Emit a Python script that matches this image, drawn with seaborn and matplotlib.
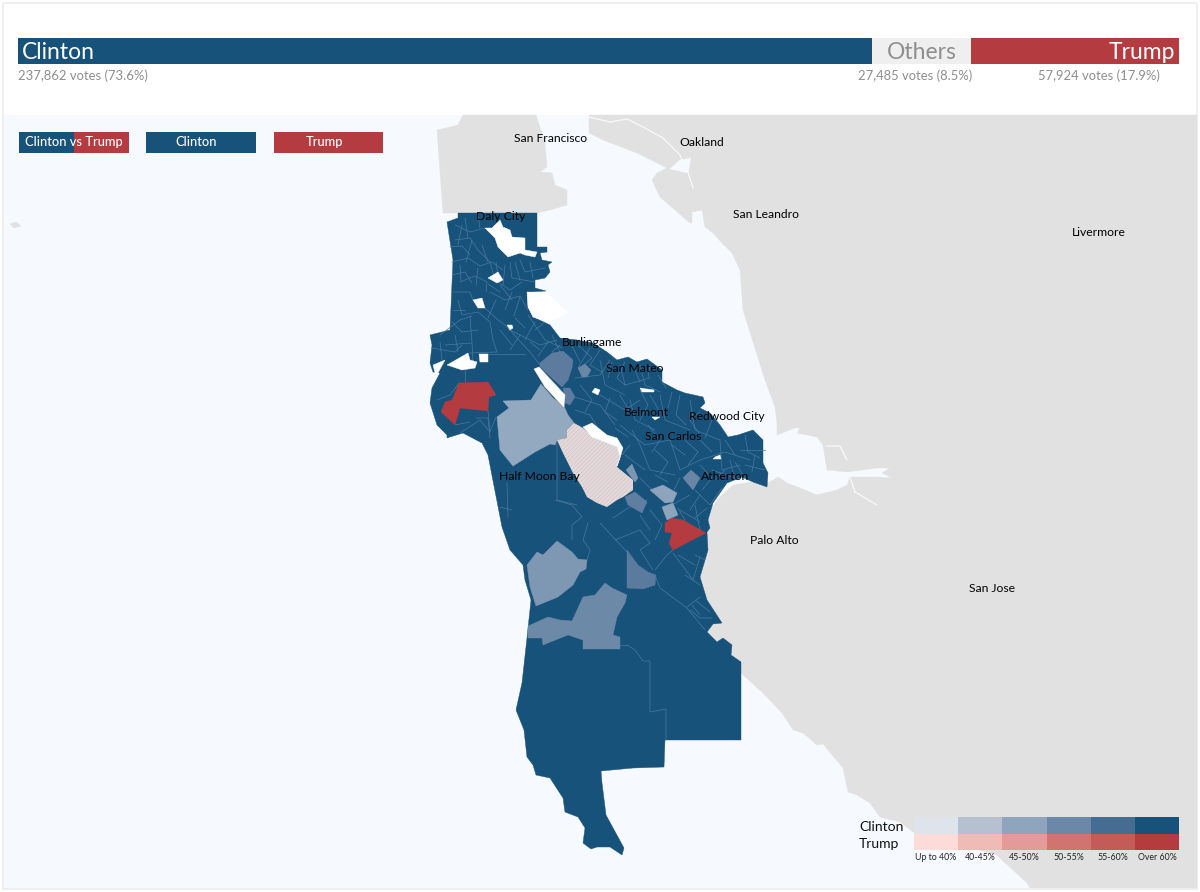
import matplotlib
matplotlib.use("Agg")
import matplotlib.pyplot as plt
from matplotlib.colors import ListedColormap
from matplotlib.patches import Polygon, Rectangle
import numpy as np
import pandas as pd
import seaborn as sns

sns.set_theme(style="white")
plt.rcParams['font.family'] = ['Lato', 'DejaVu Sans']
plt.rcParams['hatch.linewidth'] = 0.4

# ---------- results ----------
candidates = ["Clinton", "Others", "Trump"]
votes = [237862, 27485, 57924]
vote_labels = ["237,862 votes (73.6%)", "27,485 votes (8.5%)", "57,924 votes (17.9%)"]
buttons = ["Clinton", "Trump"]

# ---------- colours ----------
OCEAN = "#f6fafe"
LAND = "#e1e1e1"
BLUE = "#17527a"
RED = "#b43b3f"
OTHER = "#efefef"
LINE = "#4a7a9f"
clinton_scale = ["#dfe4ec", "#b5c0d1", "#8fa5bd", "#6c88a8", "#466c93", "#17527a"]
trump_scale = ["#fcdcd9", "#f0bab6", "#e29b97", "#d1736f", "#c35c59", "#b43b3e"]
scale_labels = ["Up to 40%", "40-45%", "45-50%", "50-55%", "55-60%", "Over 60%"]

# ---------- places ----------
places = ["San Francisco", "Oakland", "San Leandro", "Livermore", "Daly City", "Burlingame",
          "San Mateo", "Belmont", "Redwood City", "San Carlos", "Half Moon Bay", "Atherton",
          "Palo Alto", "San Jose"]
place_x = [551, 702, 766, 1099, 501, 592, 635, 646, 727, 673, 539, 725, 774, 992]
place_y = [138, 143, 214, 232, 217, 343, 368, 413, 416, 437, 477, 477, 540, 589]

# ---------- geography ----------
land_sf = [(463,115),(536,115),(545,143),(547,167),(540,172),(552,173),(555,185),(567,190),(567,205),
           (550,210),(537,213),(443,213),(437,130),(450,127),(458,125)]
land_east = [(593,115),(1197,115),(1197,888),(1030,888),(1027,883),(1000,858),(997,855),(913,832),(900,822),
             (880,817),(870,803),(857,795),(848,792),(843,768),(823,744),(817,745),(803,733),(793,730),
             (782,713),(763,693),(743,675),(728,660),(700,630),(700,573),(708,540),(708,517),(710,510),
             (720,497),(733,485),(752,482),(768,483),(778,477),(787,483),(800,488),(817,495),(837,490),
             (847,485),(850,477),(877,477),(892,478),(882,473),(890,468),(877,468),(847,472),(827,470),
             (823,445),(817,437),(797,433),(800,428),(795,428),(777,435),(777,423),(775,407),(765,380),
             (743,310),(740,270),(732,253),(722,243),(713,233),(705,227),(702,210),(692,212),(692,223),
             (690,223),(660,197),(652,180),(657,173),(667,168),(637,153),(603,140),(589,133),(589,115)]
islet = [(10,224),(16,222),(21,226),(14,228)]
water_channel = [(589,117),(610,122),(627,119),(643,127),(663,138),(680,155),(688,172),(693,188)]
water_basin = [(680,160),(691,158),(688,173),(670,169)]
water_creek_a = [(850,477),(855,492),(877,505)]
water_creek_b = [(827,446),(840,446),(847,460)]

county = [(458,213),(537,213),(537,247),(547,247),(547,252),(540,253),(542,260),(552,262),(548,265),(550,272),
          (545,278),(535,280),(535,288),(546,291),(527,292),(528,307),(533,317),(550,325),(560,338),(577,340),
          (593,343),(607,352),(617,360),(628,357),(637,362),(647,359),(662,370),(662,382),(677,390),(685,393),
          (703,397),(705,403),(700,408),(710,413),(720,425),(728,437),(738,435),(753,430),(763,440),(763,463),
          (768,473),(767,487),(753,482),(742,477),(727,483),(713,503),(708,520),(710,528),(707,532),(708,550),
          (700,577),(707,600),(722,623),(713,624),(707,632),(717,642),(723,638),(732,645),(731,655),(741,662),
          (741,740),(665,740),(664,767),(633,768),(601,771),(602,783),(606,815),(624,848),(622,855),(610,847),
          (597,847),(591,849),(583,843),(585,828),(578,817),(565,812),(563,798),(550,778),(536,775),(533,765),
          (527,757),(524,730),(516,710),(522,683),(527,638),(531,600),(525,580),(523,565),(510,550),(502,527),
          (488,455),(482,443),(463,433),(450,437),(447,438),(447,435),(437,425),(430,403),(432,388),(440,373),
          (433,372),(430,363),(432,345),(430,335),(450,330),(453,260),(447,222),(458,218)]

tract_pale = [(503,401),(531,400),(541,384),(553,398),(564,406),(568,415),(574,423),(567,430),(567,438),(557,440),
              (555,445),(550,444),(535,452),(513,466),(500,450),(497,417),(509,408)]
tract_hatched = [(567,430),(574,423),(583,428),(593,437),(607,443),(617,447),(620,457),(617,467),(633,480),(633,490),
                 (623,497),(617,500),(607,507),(597,503),(587,497),(582,487),(573,473),(563,453),(557,440),(567,438)]
tract_burlingame = [(540,363),(552,353),(563,351),(573,360),(572,368),(568,380),(562,387),(552,378),(540,367)]
tract_d = [(578,368),(585,364),(591,370),(587,377),(582,377)]
tract_e = [(563,388),(570,388),(575,397),(570,405),(565,403)]
tract_f = [(683,478),(691,470),(700,478),(693,490)]
tract_g = [(625,497),(635,492),(647,502),(642,513),(628,505)]
tract_h = [(626,470),(632,464),(638,478),(635,482)]
tract_i = [(650,490),(663,485),(677,493),(673,502),(665,503)]
tract_j = [(662,507),(673,503),(678,515),(667,520)]
tract_m = [(527,565),(537,552),(543,555),(557,541),(572,552),(578,559),(587,560),(586,569),(580,572),(573,585),
           (558,597),(536,606),(530,587)]
tract_n = [(528,626),(548,617),(560,620),(572,621),(583,597),(595,595),(605,583),(612,588),(627,595),(625,603),
           (617,617),(613,635),(620,637),(620,649),(583,649),(583,640),(568,635),(543,645),(542,638),(528,638)]
tract_o = [(627,550),(638,565),(648,572),(656,575),(655,585),(643,589),(627,588)]
tract_red_north = [(459,383),(488,382),(496,395),(489,397),(488,411),(460,408),(455,425),(441,412),(445,402),(452,400)]
tract_red_south = [(665,523),(672,518),(683,520),(706,533),(673,550),(669,543),(672,533),(665,532)]

no_data = [
    [(485,228),(492,228),(500,220),(503,227),(510,230),(512,237),(525,238),(525,250),(537,252),(535,257),
     (525,255),(520,253),(508,257),(503,252),(498,247),(495,238)],
    [(488,278),(498,272),(503,280),(497,283)],
    [(473,300),(482,298),(485,308),(478,308)],
    [(527,292),(547,293),(568,313),(560,317),(548,322),(533,317),(528,307)],
    [(507,325),(512,325),(513,328),(510,330)],
    [(447,365),(468,353),(470,360),(477,362),(475,368),(462,370)],
    [(479,354),(488,354),(488,362),(480,362)],
    [(433,365),(445,360),(438,373),(435,373)],
    [(534,369),(539,367),(553,382),(565,395),(564,407),(557,400),(545,387)],
    [(583,427),(592,423),(607,435),(617,438),(623,448),(620,458),(617,466),(620,457),(617,447),(607,443),(592,437)],
    [(595,388),(600,390),(598,395),(592,392)],
    [(715,457),(720,455),(721,459),(713,459)],
    [(652,417),(660,417),(655,420)],
    [(640,388),(654,390),(654,392),(642,392)],
]

precinct_lines = [
    [(455,240),(470,238),(478,250),(490,262)], [(452,262),(468,258),(480,266),(492,262),(503,270)],
    [(455,225),(470,232),(485,228)], [(465,218),(468,238)], [(478,215),(480,228)],
    [(460,282),(475,276),(487,282),(486,292)], [(453,292),(470,292),(473,300)],
    [(490,262),(495,280),(510,290),(522,282)], [(510,262),(512,278),(535,282)],
    [(520,260),(525,272),(545,268)], [(490,292),(505,300),(520,296),(528,310)],
    [(485,308),(498,320),(505,325)], [(458,300),(462,315),(478,312),(490,322)],
    [(490,322),(493,340),(497,352),(470,353)], [(440,335),(460,320),(472,316)],
    [(445,345),(472,343),(473,362)], [(432,348),(455,352),(462,345)], [(488,354),(525,354)],
    [(505,325),(530,352),(540,365)], [(510,330),(540,345),(557,340)], [(528,315),(545,340),(562,348)],
    [(535,322),(525,340)], [(552,335),(560,352)], [(570,342),(580,362)], [(590,348),(578,368)],
    [(600,360),(605,385),(625,395)], [(620,365),(625,385),(650,378)], [(640,365),(645,385),(660,392)],
    [(575,378),(600,375),(610,360)], [(575,397),(600,405),(615,425)], [(600,395),(625,410),(640,400)],
    [(630,400),(635,420),(655,430)], [(620,425),(645,445),(670,440)], [(660,395),(665,420),(690,430)],
    [(690,400),(695,430),(720,440)], [(640,445),(650,470),(675,475)], [(670,440),(680,470),(700,460)],
    [(625,455),(645,470)], [(700,460),(725,452),(750,460)], [(720,440),(722,470),(740,465)],
    [(740,450),(765,450)], [(745,465),(765,470)], [(735,480),(730,460)], [(695,490),(710,505),(722,488)],
    [(690,495),(672,505)], [(680,510),(700,522)], [(695,505),(700,530)], [(712,470),(735,478)],
    [(437,400),(450,395),(459,383)], [(488,411),(490,432)], [(460,433),(480,420),(490,432)],
    [(496,417),(490,432)], [(455,425),(470,422)],
    [(627,645),(635,650),(643,661),(650,661),(650,712),(666,709),(666,740)], [(620,645),(627,645)],
    [(655,575),(660,588),(687,608),(705,630)], [(655,570),(667,555),(673,550)],
    [(555,500),(572,505),(582,517),(572,525),(572,540)], [(588,523),(583,540),(590,550),(587,560)],
    [(600,523),(627,552)], [(613,518),(628,508),(647,500)], [(615,540),(640,530),(650,543),(640,550),(653,570)],
    [(687,607),(700,597)], [(673,553),(693,580),(700,557)], [(500,507),(512,510)],
    [(557,440),(557,500),(577,505)], [(507,483),(508,517)],
    # finer precinct boundaries, north
    [(450,247),(462,246),(470,255)], [(452,275),(465,272),(472,283)], [(462,225),(458,245)], [(472,240),(466,262)],
    [(482,245),(488,262)], [(496,262),(498,276)], [(505,265),(503,285)], [(515,262),(520,280)], [(530,262),(533,278)],
    [(478,268),(476,285)], [(460,265),(461,282)], [(488,284),(500,292)], [(500,285),(512,300)], [(512,292),(505,310)],
    [(520,297),(514,316)], [(496,300),(488,318)], [(453,310),(465,310)], [(452,322),(462,332),(478,330)],
    [(470,316),(472,343)], [(440,342),(442,360)], [(455,335),(458,352)], [(500,330),(512,345)], [(515,318),(525,328)],
    [(520,335),(510,350)], [(535,330),(545,322)], [(540,350),(530,342)], [(548,342),(538,356)], [(560,345),(552,352)],
    # finer precinct boundaries, bayside
    [(578,345),(592,358),(580,368)], [(600,350),(590,365),(602,372)], [(612,362),(608,378)], [(625,362),(617,378),(626,386)],
    [(634,368),(640,382)], [(650,365),(648,378)], [(658,375),(666,388)], [(672,392),(668,408)], [(680,395),(676,415),(686,425)],
    [(700,412),(690,420),(700,435)], [(712,420),(705,438)], [(580,385),(592,400),(585,412)], [(575,410),(590,415),(598,428)],
    [(610,398),(605,412),(617,420)], [(620,395),(630,412)], [(640,390),(648,405),(640,420)], [(650,395),(660,412)],
    [(648,425),(660,440),(652,452)], [(632,430),(640,445)], [(615,428),(628,437)], [(630,445),(622,455)],
    [(655,450),(668,462),(660,475)], [(672,445),(685,455)], [(685,440),(698,452),(688,465)], [(700,440),(712,452)],
    [(725,440),(735,455)], [(745,435),(748,452),(760,458)], [(755,455),(752,472)], [(735,462),(745,478)],
    [(700,465),(712,478),(702,490)], [(715,480),(725,470)], [(655,475),(668,482)], [(640,478),(652,490)],
    [(680,478),(674,490)], [(700,495),(690,510)], [(707,508),(695,518)], [(685,520),(678,508)],
    [(650,510),(662,525),(655,540)], [(640,515),(650,530)], [(678,555),(695,565)], [(695,555),(705,560)],
    [(685,575),(700,585)], [(695,600),(710,612)], [(700,615),(692,605)], [(690,610),(700,618),(712,618)],
    [(465,370),(465,382)], [(476,418),(488,418),(490,438)],
]

# ---------- figure ----------
W, H = 1200, 892
fig = plt.figure(figsize=(12, 8.92), dpi=100, facecolor="white")
ax = fig.add_axes([0, 0, 1, 1])
ax.set_xlim(0, W)
ax.set_ylim(H, 0)
ax.axis("off")


def px_axes(x0, y0, x1, y1):
    a = fig.add_axes([x0 / W, 1 - y1 / H, (x1 - x0) / W, (y1 - y0) / H])
    a.patch.set_alpha(0)
    return a


def shape(pts, color, z=2, **kw):
    ax.add_patch(Polygon(pts, closed=True, facecolor=color, edgecolor=kw.pop("edge", color),
                         linewidth=kw.pop("lw", 0.3), zorder=z, **kw))


ax.add_patch(Rectangle((3, 3), 1194, 886, facecolor="white", edgecolor="#ececec", linewidth=1.2, zorder=0))
ax.add_patch(Rectangle((4, 115), 1192, 773, facecolor=OCEAN, edgecolor="none", zorder=1))

for poly in (land_sf, land_east, islet):
    shape(poly, LAND, z=2)
shape(water_basin, OCEAN, z=3)
for line in (water_channel, water_creek_a, water_creek_b):
    xs, ys = zip(*line)
    ax.plot(xs, ys, color=OCEAN, lw=0.9, zorder=3, solid_capstyle="round")

shape(county, BLUE, z=4)
for xs, ys in (zip(*l) for l in precinct_lines):
    ax.plot(xs, ys, color=LINE, lw=0.5, zorder=5)

for poly, col in [(tract_pale, "#93a9bf"), (tract_burlingame, "#5c7b9f"), (tract_d, "#6b87a6"),
                  (tract_e, "#5c7b9f"), (tract_f, "#6a86a5"), (tract_g, "#5f7ea0"), (tract_h, "#7d97b3"),
                  (tract_i, "#8ea4bc"), (tract_j, "#8ea4bc"), (tract_m, "#7e97b3"), (tract_n, "#6d89a8"),
                  (tract_o, "#5a7a9e"), (tract_red_north, RED), (tract_red_south, RED)]:
    shape(poly, col, z=6)
ax.add_patch(Polygon(tract_hatched, closed=True, facecolor="#e4dadb", edgecolor="#cfbcc0",
                     hatch="////////", linewidth=0, zorder=6))
for poly in no_data:
    shape(poly, "white", z=7)

# stacked result bar, drawn back to front from the cumulative totals
bar_ax = px_axes(18, 38, 1179, 64)
cumulative = np.cumsum(votes)
for name, total, col in zip(candidates[::-1], cumulative[::-1], [RED, OTHER, BLUE]):
    sns.barplot(data=pd.DataFrame({"who": ["all"], "total": [total]}), x="total", y="who",
                color=col, saturation=1, width=1, ax=bar_ax, orient="h", linewidth=0, edgecolor="none")
bar_ax.set_xlim(0, cumulative[-1])
bar_ax.set_ylim(0.5, -0.5)
bar_ax.axis("off")
bar_ax.text(4 / 1161, 0.46, candidates[0], transform=bar_ax.transAxes, color="white", fontsize=16.5, va="center")
sx = (cumulative[0] + votes[1] / 2) / cumulative[-1]
bar_ax.text(sx, 0.46, candidates[1], transform=bar_ax.transAxes, color="#8e8e8e", fontsize=16.5, va="center", ha="center")
bar_ax.text(1 - 4 / 1161, 0.46, candidates[2], transform=bar_ax.transAxes, color="white", fontsize=16.5, va="center", ha="right")

ax.text(18, 76, vote_labels[0], color="#8e8e8e", fontsize=9.4, va="center", ha="left", zorder=9)
ax.text(915, 76, vote_labels[1], color="#8e8e8e", fontsize=9.4, va="center", ha="center", zorder=9)
ax.text(1099, 76, vote_labels[2], color="#8e8e8e", fontsize=9.4, va="center", ha="center", zorder=9)

# selector buttons
ax.add_patch(Rectangle((19, 132), 55, 21, facecolor=BLUE, edgecolor="none", zorder=8))
ax.add_patch(Rectangle((74, 132), 55, 21, facecolor=RED, edgecolor="none", zorder=8))
ax.text(74, 142.5, "Clinton vs Trump", color="white", fontsize=9.3, ha="center", va="center", zorder=9, fontweight="medium")
ax.add_patch(Rectangle((146, 132), 110, 21, facecolor=BLUE, edgecolor="none", zorder=8))
ax.text(196, 142.5, buttons[0], color="white", fontsize=9.3, ha="center", va="center", zorder=9, fontweight="medium")
ax.add_patch(Rectangle((274, 132), 109, 21, facecolor=RED, edgecolor="none", zorder=8))
ax.text(325, 142.5, buttons[1], color="white", fontsize=9.3, ha="center", va="center", zorder=9, fontweight="medium")

for name, x, y in zip(places, place_x, place_y):
    ax.text(x, y, name, color="black", fontsize=8.7, ha="center", va="center", zorder=9)

# colour key as a two-row heatmap
key_ax = px_axes(914, 817, 1179, 850)
key_values = np.array([np.arange(6), np.arange(6) + 6])
sns.heatmap(key_values, cmap=ListedColormap(clinton_scale + trump_scale), vmin=-0.5, vmax=11.5,
            cbar=False, xticklabels=False, yticklabels=False, ax=key_ax)
cell = 265 / 6
for i, label in enumerate(scale_labels):
    ax.text(914 + cell * (i + 0.5), 858, label, color="#222222", fontsize=6.3, ha="center", va="center", zorder=9)
ax.text(859, 827, "Clinton", color="#111111", fontsize=10, ha="left", va="center", zorder=9)
ax.text(859, 844, "Trump", color="#111111", fontsize=10, ha="left", va="center", zorder=9)

fig.savefig("out.png", dpi=100)
